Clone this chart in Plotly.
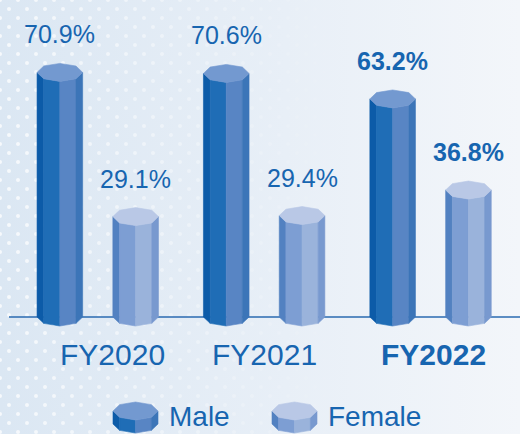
import numpy as np
import plotly.graph_objects as go

# data
years = ["FY2020", "FY2021", "FY2022"]
male = [70.9, 70.6, 63.2]
female = [29.1, 29.4, 36.8]
male_labels = ["70.9%", "70.6%", "63.2%"]
female_labels = ["29.1%", "29.4%", "36.8%"]
bold_year = "FY2022"

W, H = 520, 434
BASE_PX = 317          # pixel row of the baseline
PX_PER_PCT = 3.45      # vertical scale
GROUP0_PX = 97.75      # pixel column of first group
GROUP_PX = 166.4       # pixels between groups

TEXT = "#1765b0"
FONT = "Liberation Sans, Arial, sans-serif"

male_faces = ["#0c5ba8", "#1f6db6", "#5885c4", "#3c75b8"]
male_cap = "#7399d0"
female_faces = ["#5281c1", "#7d9ed3", "#9ab3db", "#7899cf"]
female_cap = "#b9c8e6"


def px_x(p):
    return (p - GROUP0_PX) / GROUP_PX


def px_y(p):
    return (BASE_PX - p) / PX_PER_PCT


R = 22.8 / GROUP_PX          # prism radius in x units
RY = 9 / PX_PER_PCT          # vertical half-height of the octagon
OFF = 37.9 / GROUP_PX        # bar offset from group centre

fig = go.Figure()

# background gradient
fig.add_trace(go.Scatter(
    x=[px_x(0), px_x(W), px_x(W), px_x(0), px_x(0)],
    y=[px_y(0), px_y(0), px_y(H), px_y(H), px_y(0)],
    mode="lines", line=dict(width=0), fill="toself",
    fillgradient=dict(type="horizontal",
                      colorscale=[[0, "#dbe7f3"], [0.55, "#e8eff7"], [1, "#f3f6fa"]]),
    hoverinfo="skip", showlegend=False))

# dotted texture (decoration)
dx, dy = [], []
cols = []
for row in range(0, 50):
    yy = row * 9
    shift = 9 if row % 2 else 0
    for xx in range(shift, W, 18):
        a = max(0.0, 0.75 - xx / 460)
        if a <= 0.02:
            continue
        dx.append(px_x(xx))
        dy.append(px_y(yy))
        cols.append(f"rgba(255,255,255,{a:.2f})")
fig.add_trace(go.Scatter(x=dx, y=dy, mode="markers",
                         marker=dict(size=4, color=cols, line=dict(width=0)),
                         hoverinfo="skip", showlegend=False))

# baseline
fig.add_trace(go.Scatter(x=[px_x(9), px_x(W)], y=[0, 0], mode="lines",
                         line=dict(color="#2a6ab0", width=1.6),
                         hoverinfo="skip", showlegend=False))

ANG = np.radians([180, 225, 270, 315, 360])
CAP_ANG = np.radians(np.arange(0, 360, 45))


def prism(cx, bottom, top, faces, cap, rx=R, ry=RY):
    vx = cx + rx * np.cos(ANG)
    vdy = ry * np.sin(ANG)
    for k in range(4):
        xs = [vx[k], vx[k + 1], vx[k + 1], vx[k], vx[k]]
        ys = [top + vdy[k], top + vdy[k + 1], bottom + vdy[k + 1], bottom + vdy[k], top + vdy[k]]
        fig.add_trace(go.Scatter(x=xs, y=ys, mode="lines", fill="toself",
                                 fillcolor=faces[k], line=dict(color=faces[k], width=0.6),
                                 hoverinfo="skip", showlegend=False))
    cxs = list(cx + rx * np.cos(CAP_ANG)) + [cx + rx]
    cys = list(top + ry * np.sin(CAP_ANG)) + [top]
    fig.add_trace(go.Scatter(x=cxs, y=cys, mode="lines", fill="toself",
                             fillcolor=cap, line=dict(color=cap, width=0.6),
                             hoverinfo="skip", showlegend=False))


for i in range(len(years)):
    prism(i - OFF, 0, male[i], male_faces, male_cap)
    prism(i + OFF, 0, female[i], female_faces, female_cap)

annotations = []
for i, yr in enumerate(years):
    b = yr == bold_year
    for cx, v, lab in [(i - OFF, male[i], male_labels[i]), (i + OFF, female[i], female_labels[i])]:
        annotations.append(dict(
            x=cx, y=v, yshift=38, text=f"<b>{lab}</b>" if b else lab, showarrow=False,
            xanchor="center", yanchor="middle",
            font=dict(family=FONT, size=25, color=TEXT)))

# category labels
label_shift = [15, 0, 3]
for i, yr in enumerate(years):
    annotations.append(dict(
        x=i, y=0, yshift=-37, xshift=label_shift[i],
        text=f"<b>{yr}</b>" if yr == bold_year else yr, showarrow=False,
        xanchor="center", yanchor="middle",
        font=dict(family=FONT, size=30, color=TEXT)))

# legend
legend_items = [("Male", 135.5, male_faces, male_cap), ("Female", 294.5, female_faces, female_cap)]
for name, cx_px, faces, cap in legend_items:
    prism(px_x(cx_px), px_y(424), px_y(411), faces, cap, rx=22.5 / GROUP_PX, ry=RY)
    annotations.append(dict(
        x=px_x(cx_px + 31), y=px_y(416), text=name, showarrow=False,
        xanchor="left", yanchor="middle",
        font=dict(family=FONT, size=28, color=TEXT)))

fig.update_layout(
    width=W, height=H,
    margin=dict(l=0, r=0, t=0, b=0),
    paper_bgcolor="#e6eef7", plot_bgcolor="#e6eef7",
    xaxis=dict(range=[px_x(0), px_x(W)], visible=False, fixedrange=True),
    yaxis=dict(range=[px_y(H), px_y(0)], visible=False, fixedrange=True),
    annotations=annotations,
    showlegend=False,
)

# body has a default 8px margin; drop it so the chart fills the window
fig.write_html("out.html", config={"displayModeBar": False},
               post_script="document.body.style.margin='0';document.body.style.overflow='hidden';")
